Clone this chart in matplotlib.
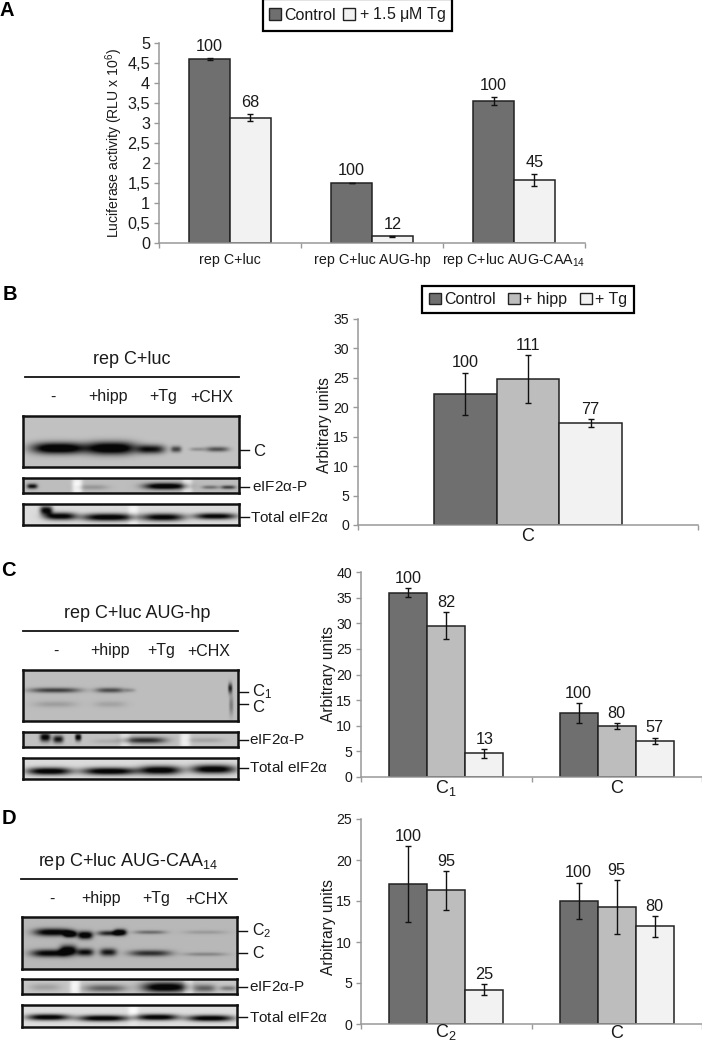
import numpy as np
import matplotlib
matplotlib.use("Agg")
import matplotlib.pyplot as plt
from matplotlib.patches import Patch

W, H = 702, 1042
plt.rcParams['font.family'] = ['Liberation Sans', 'DejaVu Sans']
plt.rcParams['mathtext.fontset'] = 'custom'
plt.rcParams['mathtext.rm'] = 'Liberation Sans'
plt.rcParams['mathtext.it'] = 'Liberation Sans:italic'

DARK, MID, LIGHT = '#6f6f6f', '#bdbdbd', '#f2f2f2'
TXT = '#1a1a1a'

# panel A
a_cats = ['rep C+luc', 'rep C+luc AUG-hp', r'rep C+luc AUG-CAA$\mathregular{_{14}}$']
a_ctrl = [4.6, 1.5, 3.55]
a_ctrl_err = [0.03, 0.01, 0.09]
a_tg = [3.13, 0.17, 1.58]
a_tg_err = [0.09, 0.01, 0.15]
a_ctrl_pct = ['100', '100', '100']
a_tg_pct = ['68', '12', '45']
a_ticks = [0, 0.5, 1, 1.5, 2, 2.5, 3, 3.5, 4, 4.5, 5]
a_ticklabels = ['0', '0,5', '1', '1,5', '2', '2,5', '3', '3,5', '4', '4,5', '5']

# panel B
b_cats = ['C']
b_vals = [[22.3], [24.8], [17.3]]
b_errs = [[3.6], [4.0], [0.7]]
b_pct = [['100'], ['111'], ['77']]

# panel C
c_cats = [r'C$\mathregular{_1}$', 'C']
c_vals = [[36.0, 12.5], [29.5, 10.0], [4.6, 7.1]]
c_errs = [[0.8, 1.9], [2.6, 0.6], [0.85, 0.6]]
c_pct = [['100', '100'], ['82', '80'], ['13', '57']]

# panel D
d_cats = [r'C$\mathregular{_2}$', 'C']
d_vals = [[17.1, 15.0], [16.3, 14.3], [4.2, 11.9]]
d_errs = [[4.65, 2.25], [2.4, 3.3], [0.7, 1.3]]
d_pct = [['100', '100'], ['95', '95'], ['25', '80']]

# blot bands: centre x, centre y, half width, half height, darkness (image pixels)
b_main = [(58, 448, 25, 4.5, .95), (111, 448, 24, 5, .95), (151, 449, 13, 3.5, .7),
          (176, 449, 5, 2.5, .5), (197, 449, 7, 1.5, .2), (217, 449, 11, 2, .45)]
b_eif = [(32, 486, 5, 2, .7), (165, 486, 20, 2.5, .9), (92, 487, 15, 2, .15),
         (210, 487, 8, 1.5, .3), (228, 487, 7, 1.5, .5), (77, 486, 5, 9, -.25), (187, 486, 5, 9, -.2)]
b_total = [(60, 516, 15, 3, .9), (46, 510, 6, 3.5, .85), (108, 517, 25, 3, .95),
           (163, 517, 20, 3, .9), (215, 516, 20, 2.5, .9), (133, 515, 5, 12, -.12)]
c_main = [(55, 690, 24, 2, .5), (110, 690, 14, 2, .45), (130, 690, 5, 1.5, .15),
          (55, 704, 20, 2.5, .12), (110, 704, 15, 2.5, .1), (230, 688, 2, 4, .6), (231, 705, 2, 8, .25)]
c_eif = [(45, 737, 5, 3.5, .8), (58, 739, 5, 3, .7), (78, 737, 3, 3, .8), (145, 740, 20, 2.5, .6),
         (205, 740, 18, 2, .12), (108, 741, 15, 2, .08), (125, 740, 5, 9, -.15), (185, 740, 5, 9, -.2)]
c_total = [(49, 771, 21, 3, .95), (109, 771, 26, 3, .95), (160, 770, 20, 3.5, .95), (213, 769, 21, 3.5, .95)]
d_main = [(53, 932, 18, 3, .8), (70, 934, 6, 2.5, .85), (85, 935, 7, 3, .9), (110, 933, 12, 2, .6),
          (120, 932, 6, 2.5, .75), (150, 932, 15, 1.5, .3), (205, 932, 20, 1.5, .12),
          (50, 953, 18, 3, .75), (68, 950, 8, 4, .8), (85, 952, 8, 3, .7), (108, 952, 8, 3, .65),
          (150, 953, 20, 2.5, .55), (205, 954, 20, 1.5, .2)]
d_eif = [(45, 987, 15, 3, .15), (105, 988, 20, 3, .4), (165, 987, 22, 4, .9), (205, 988, 10, 3, .4),
         (228, 988, 8, 2, .3), (75, 987, 5, 9, -.2), (188, 987, 5, 9, -.2)]
d_total = [(48, 1017, 20, 2.5, .95), (103, 1018, 24, 2.5, .95), (157, 1017, 20, 2.5, .95),
           (210, 1018, 22, 2.5, .95), (133, 1012, 5, 8, -.12)]

lanes = ['-', '+hipp', '+Tg', '+CHX']

fig = plt.figure(figsize=(W / 100, H / 100), dpi=100)


def px_axes(x0, y0, x1, y1):
    # pixel box, y measured from the top of the image
    return fig.add_axes([x0 / W, 1 - y1 / H, (x1 - x0) / W, (y1 - y0) / H])


def ftext(x, y, s, **kw):
    kw.setdefault('ha', 'center')
    kw.setdefault('va', 'center')
    kw.setdefault('color', TXT)
    return fig.text(x / W, 1 - y / H, s, **kw)


def barpanel(box, cats, vals, errs, pct, colors, width, ymax, ticks, ticklabels=None,
             fs=10.2, catfs=13, cat_base=16, pct_fs=11.7, pct_off=1.5):
    ax = px_axes(*box)
    n = len(cats)
    x = np.arange(n)
    m = len(vals)
    for i in range(m):
        off = (i - (m - 1) / 2) * width
        ax.bar(x + off, vals[i], width, color=colors[i], edgecolor='#222222', linewidth=1.1, zorder=2)
        ax.errorbar(x + off, vals[i], yerr=errs[i], fmt='none', ecolor='#111111',
                    elinewidth=1, capsize=2.5, capthick=1, zorder=3)
        for j in range(n):
            ax.annotate(pct[i][j], (x[j] + off, vals[i][j] + errs[i][j]), xytext=(0, pct_off),
                        textcoords='offset points', ha='center', va='bottom',
                        fontsize=pct_fs, color=TXT)
    ax.set_xlim(-0.5, n - 0.5)
    ax.set_ylim(0, ymax)
    ax.set_yticks(ticks)
    if ticklabels:
        ax.set_yticklabels(ticklabels)
    ax.set_xticks(np.arange(n + 1) - 0.5)
    ax.set_xticklabels([])
    # category names share a baseline under the axis
    for j in range(n):
        ax.annotate(cats[j], (x[j], 0), xytext=(0, -cat_base * 0.72), textcoords='offset points',
                    ha='center', va='baseline', fontsize=catfs, color=TXT, annotation_clip=False)
    ax.tick_params(axis='x', which='major', length=3.5, color='#999999', width=1)
    ax.tick_params(axis='y', length=3.5, color='#999999', width=1, labelsize=fs, pad=3, labelcolor=TXT)
    for s in ['top', 'right']:
        ax.spines[s].set_visible(False)
    for s in ['left', 'bottom']:
        ax.spines[s].set_color('#999999')
        ax.spines[s].set_linewidth(1.1)
    ax.patch.set_alpha(0)
    return ax


def legend(box, labels, colors, fs, spacing):
    handles = [Patch(facecolor=c, edgecolor='#222222', linewidth=1) for c in colors]
    x0, y0, x1, y1 = box
    leg = fig.legend(handles, labels, loc='center', bbox_to_anchor=((x0 + x1) / 2 / W, 1 - (y0 + y1) / 2 / H),
                     ncol=len(labels), fontsize=fs, frameon=True, fancybox=False, edgecolor='black',
                     framealpha=1, handlelength=0.75, handleheight=0.75, handletextpad=0.2,
                     columnspacing=spacing, borderpad=0.4, borderaxespad=0)
    leg.get_frame().set_linewidth(1.6)
    for t in leg.get_texts():
        t.set_color(TXT)


def blot(box, bands, bg):
    x0, y0, x1, y1 = box
    xx, yy = np.meshgrid(np.arange(x0, x1, 0.5), np.arange(y0, y1, 0.5))
    img = np.full(xx.shape, bg, dtype=float)
    for cx, cy, w, h, d in bands:
        img -= d * np.exp(-np.abs((xx - cx) / (w * 1.05)) ** 3) * np.exp(-((yy - cy) / (h * 1.25)) ** 2)
    ax = px_axes(*box)
    ax.imshow(np.clip(img, 0.03, 1), cmap='gray', vmin=0, vmax=1, aspect='auto',
              extent=(x0, x1, y1, y0), interpolation='bilinear')
    ax.set_xticks([])
    ax.set_yticks([])
    for s in ax.spines.values():
        s.set_linewidth(1.8)
        s.set_color('#111111')


def mark(xs, y, label, xt, yt=None, fs=11):
    fig.add_artist(plt.Line2D([xs[0] / W, xs[1] / W], [1 - y / H, 1 - y / H], color='#111111', lw=1))
    ftext(xt, y if yt is None else yt, label, ha='left', fontsize=fs)


def blotpanel(title, tx, ty, line, ly, lane_x, lane_y, main, eif, total):
    ftext(tx, ty, title, fontsize=13)
    fig.add_artist(plt.Line2D([line[0] / W, line[1] / W], [1 - ly / H, 1 - ly / H], color='#111111', lw=1.3))
    for lx, s in zip(lane_x, lanes):
        ftext(lx, lane_y, s, fontsize=11.5)
    blot(*main)
    blot(*eif)
    blot(*total)


# A
barpanel((159, 43, 585, 243), a_cats, [a_ctrl, a_tg], [a_ctrl_err, a_tg_err], [a_ctrl_pct, a_tg_pct],
         [DARK, LIGHT], 0.287, 5, a_ticks, a_ticklabels, fs=11.7, catfs=10.3, cat_base=21, pct_fs=11.7, pct_off=3)
ftext(114, 143, r'Luciferase activity (RLU x 10$\mathregular{^6}$)', rotation=90, fontsize=10.1)
legend((265, 3, 450, 27), ['Control', r'+ 1.5 $\mathregular{\mu}$M Tg'], [DARK, LIGHT], 11.5, 0.45)

# B
barpanel((358, 319, 698, 525), b_cats, b_vals, b_errs, b_pct, [DARK, MID, LIGHT], 0.184, 35,
         list(range(0, 36, 5)))
ftext(325, 425, 'Arbitrary units', rotation=90, fontsize=11.2)
legend((419, 288, 637, 311), ['Control', '+ hipp', '+ Tg'], [DARK, MID, LIGHT], 11.5, 0.8)

# C
barpanel((361, 572, 702, 777), c_cats, c_vals, c_errs, c_pct, [DARK, MID, LIGHT], 0.223, 40,
         list(range(0, 41, 5)))
ftext(328, 674, 'Arbitrary units', rotation=90, fontsize=11.2)

# D
barpanel((361, 819, 702, 1024), d_cats, d_vals, d_errs, d_pct, [DARK, MID, LIGHT], 0.223, 25,
         list(range(0, 26, 5)), cat_base=13.5)
ftext(328, 927, 'Arbitrary units', rotation=90, fontsize=11.2)

# blots
blotpanel('rep C+luc', 132, 360, (25, 239), 377, (53, 108, 163, 212), 397,
          ((23, 416, 239, 467), b_main, .76), ((23, 478, 239, 493), b_eif, .74), ((23, 504, 239, 525), b_total, .86))
mark((240, 249), 450, 'C', 253, 452, fs=12)
mark((240, 249), 487, r'eIF2$\mathregular{\alpha}$-P', 252)
mark((240, 249), 517, r'Total eIF2$\mathregular{\alpha}$', 250)

blotpanel('rep C+luc AUG-hp', 137, 614, (23, 238), 631, (56, 110, 161, 209), 651,
          ((23, 670, 238, 721), c_main, .74), ((23, 732, 238, 747), c_eif, .76), ((23, 758, 238, 779), c_total, .86))
mark((239, 248), 692, r'C$\mathregular{_1}$', 252, 692, fs=12)
mark((239, 248), 704, 'C', 252, 707, fs=12)
mark((239, 248), 740, r'eIF2$\mathregular{\alpha}$-P', 249)
mark((239, 248), 768, r'Total eIF2$\mathregular{\alpha}$', 249)

blotpanel(r'rep C+luc AUG-CAA$\mathregular{_{14}}$', 128, 862, (21, 237), 879, (52, 101, 156, 207), 899,
          ((22, 917, 237, 969), d_main, .72), ((22, 979, 237, 994), d_eif, .78), ((22, 1005, 237, 1027), d_total, .87))
mark((238, 247), 931, r'C$\mathregular{_2}$', 252, 931, fs=11.5)
mark((238, 247), 953, 'C', 252, 954, fs=11.5)
mark((238, 247), 987, r'eIF2$\mathregular{\alpha}$-P', 249)
mark((238, 247), 1017, r'Total eIF2$\mathregular{\alpha}$', 249)

# panel letters
for x, y, s in [(7, 10, 'A'), (10, 295, 'B'), (8, 570, 'C'), (9, 819, 'D')]:
    ftext(x, y, s, fontsize=14.5, fontweight='bold', color='black')

fig.savefig('out.png', dpi=100)
